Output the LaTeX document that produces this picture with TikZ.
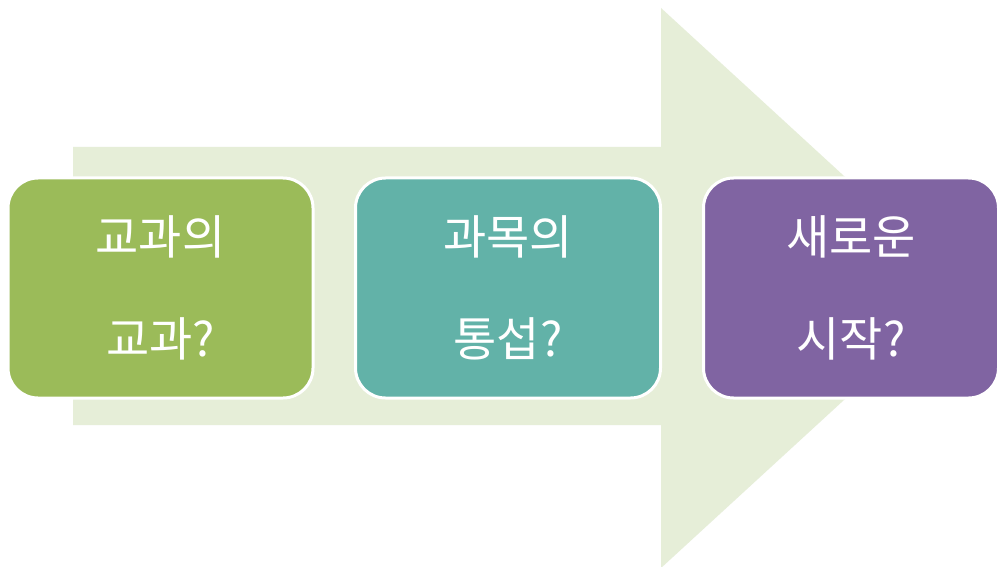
\documentclass[tikz,border=0pt]{standalone}
\usepackage{fontspec}
\newfontfamily\kr{Noto Sans CJK KR}
\definecolor{arrowfill}{HTML}{E6EED8}
\definecolor{boxgreen}{HTML}{9BBB59}
\definecolor{boxteal}{HTML}{62B2A8}
\definecolor{boxpurple}{HTML}{8064A2}
\begin{document}
\begin{tikzpicture}[x=1pt,y=-1pt,
  stepbox/.style={draw=white, line width=3pt, rounded corners=30pt,
    minimum width=305pt, minimum height=220pt, inner sep=0pt,
    text=white, align=center, font=\kr\fontsize{47}{102}\selectfont}]
\useasboundingbox (0,0) rectangle (999,567);
\fill[white] (0,0) rectangle (999,567);
% big arrow
\fill[arrowfill] (73,147) -- (661,147) -- (661,8) -- (966,288) -- (661,568) -- (661,425) -- (73,425) -- cycle;
\node[stepbox, fill=boxgreen] (a) at (160.5,288) {교과의\\교과?};
\node[stepbox, fill=boxteal] (b) at (508,288) {과목의\\통섭?};
\node[stepbox, fill=boxpurple, minimum width=295pt] (c) at (851,288) {새로운\\시작?};
\end{tikzpicture}
\end{document}
